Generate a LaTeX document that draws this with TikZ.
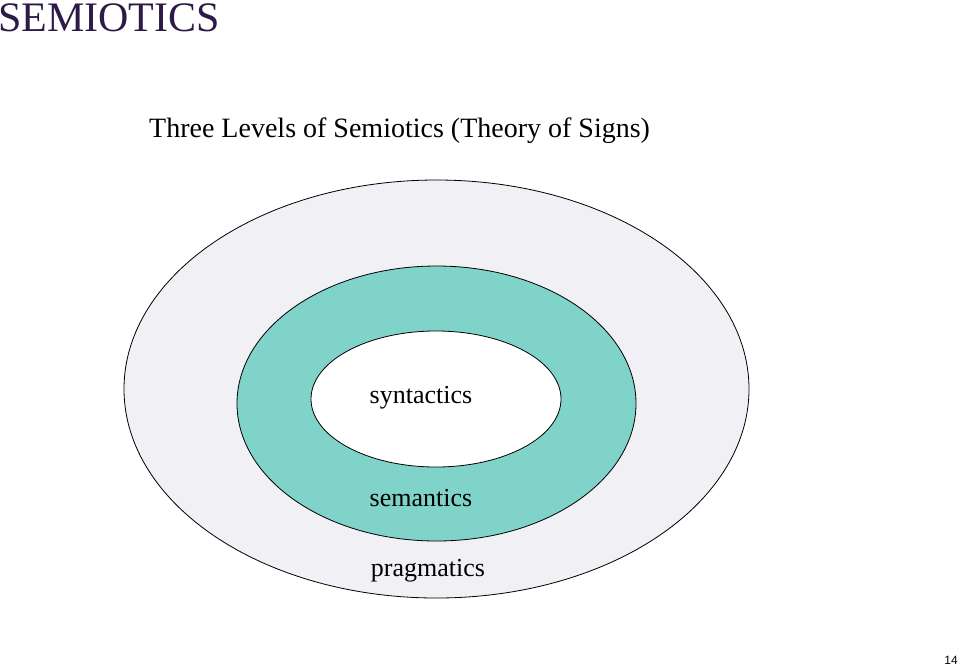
\documentclass[tikz,border=0pt]{standalone}
\usepackage{fontspec}
\setmainfont{Liberation Serif}
\newfontfamily\numfont{Liberation Sans}
\definecolor{outerc}{HTML}{F0F0F5}
\definecolor{midc}{HTML}{7FD3C8}
\definecolor{titlec}{HTML}{2E1A47}
\begin{document}
\begin{tikzpicture}[x=1pt,y=-1pt,
  ring/.style={draw=black,line width=0.8pt},
  lbl/.style={inner sep=0pt,font=\fontsize{26}{30}\selectfont}]
\useasboundingbox (0,0) rectangle (960,667);
\fill[white] (0,0) rectangle (960,667);
\draw[ring,fill=outerc] (436.5,389) ellipse [x radius=312.5,y radius=209];
\draw[ring,fill=midc] (436.5,403.5) ellipse [x radius=199.5,y radius=137.5];
\draw[ring,fill=white] (436,399) ellipse [x radius=125,y radius=68];
\node[anchor=west,inner sep=0pt,text=titlec,font=\fontsize{42}{48}\selectfont] (head) at (-2,18) {SEMIOTICS};
\node[anchor=west,inner sep=0pt,font=\fontsize{28}{32}\selectfont] (title) at (149,131) {Three Levels of Semiotics (Theory of Signs)};
\node[lbl] (syn) at (421,398) {syntactics};
\node[lbl] (sem) at (421,498) {semantics};
\node[lbl] (prag) at (428,571) {pragmatics};
\node[anchor=east,inner sep=0pt,font=\numfont\fontsize{12}{14}\selectfont] (num) at (958,660) {14};
\end{tikzpicture}
\end{document}
